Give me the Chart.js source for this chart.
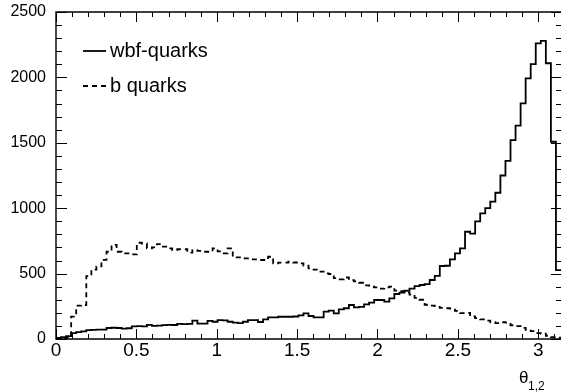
<!DOCTYPE html>
<html>
<head>
<meta charset="utf-8">
<script src="https://cdn.jsdelivr.net/npm/chart.js@4/dist/chart.umd.min.js"></script>
<style>
  html, body { margin: 0; padding: 0; background: #fff; }
  #wrap { width: 561px; height: 392px; }
</style>
</head>
<body>
<div id="wrap"><canvas id="chart"></canvas></div>
<script>
// 100 bins between 0 and pi (theta_1,2)
const nBins = 100;
const xLow = 0;
const xHigh = Math.PI;

const seriesLabels = ['wbf-quarks', 'b quarks'];

const wbfQuarks = [
    8, 15, 22, 45, 52, 58, 68, 70, 72, 72,
    84, 86, 84, 80, 82, 96, 98, 97, 108, 100,
    102, 106, 108, 107, 115, 114, 116, 140, 117, 118,
    138, 132, 145, 142, 132, 125, 122, 132, 145, 145,
    130, 150, 165, 165, 170, 170, 170, 172, 180, 196,
    176, 165, 165, 209, 217, 196, 227, 235, 260, 242,
    245, 265, 278, 298, 298, 285, 311, 344, 355, 369,
    385, 405, 413, 420, 451, 482, 558, 560, 609, 655,
    693, 820, 805, 900, 961, 1000, 1050, 1118, 1250, 1362,
    1521, 1631, 1802, 1993, 2102, 2260, 2280, 2108, 1508, 527
];

const bQuarks = [
    0, 3, 10, 171, 255, 260, 480, 530, 555, 605,
    667, 720, 667, 655, 655, 647, 736, 730, 693, 700,
    726, 706, 693, 680, 686, 686, 660, 680, 674, 667,
    667, 693, 670, 655, 693, 624, 624, 616, 609, 609,
    604, 604, 629, 578, 584, 584, 591, 585, 578, 560,
    540, 530, 515, 502, 497, 465, 456, 470, 450, 440,
    430, 410, 400, 395, 385, 395, 400, 370, 365, 355,
    340, 315, 300, 262, 255, 245, 238, 235, 232, 215,
    198, 200, 172, 160, 150, 140, 128, 122, 128, 125,
    105, 98, 85, 70, 60, 45, 40, 25, 15, 10
];

const xMajorTicks = [0, 0.5, 1, 1.5, 2, 2.5, 3];
const xTickLabels = ['0', '0.5', '1', '1.5', '2', '2.5', '3'];
const yMajorTicks = [0, 500, 1000, 1500, 2000, 2500];
const yTickLabels = ['0', '500', '1000', '1500', '2000', '2500'];

const FONT = "'Liberation Sans', Arial, sans-serif";

// turn bin contents into points on the bin edges for a stepped line
function toSteps(values) {
    const w = (xHigh - xLow) / nBins;
    const pts = values.map((v, i) => ({ x: xLow + i * w, y: v }));
    pts.push({ x: xHigh, y: values[values.length - 1] });
    return pts;
}

// ROOT-like frame with ticks pointing inwards on all four sides
// (the right border itself falls just outside the picture)
const framePlugin = {
    id: 'frame',
    afterDatasetsDraw(chart) {
        const { ctx, chartArea: a, scales } = chart;
        const x = scales.x, y = scales.y;
        const right = x.getPixelForValue(xHigh);
        ctx.save();
        ctx.strokeStyle = '#000';
        ctx.lineWidth = 1;
        ctx.beginPath();
        for (let i = 0; i <= 31; i++) {
            const px = Math.round(x.getPixelForValue(i / 10)) + 0.5;
            const len = i % 5 === 0 ? 10 : 5;
            ctx.moveTo(px, a.bottom); ctx.lineTo(px, a.bottom - len);
            ctx.moveTo(px, a.top); ctx.lineTo(px, a.top + len);
        }
        for (let i = 0; i <= 25; i++) {
            const py = Math.round(y.getPixelForValue(i * 100)) + 0.5;
            const len = i % 5 === 0 ? 11 : 6;
            ctx.moveTo(a.left, py); ctx.lineTo(a.left + len, py);
            ctx.moveTo(right + 1, py); ctx.lineTo(right + 1 - len, py);
        }
        ctx.stroke();
        ctx.lineWidth = 1.4;
        ctx.beginPath();
        ctx.moveTo(right + 2, a.top);
        ctx.lineTo(a.left, a.top);
        ctx.lineTo(a.left, a.bottom);
        ctx.lineTo(right + 2, a.bottom);
        ctx.stroke();
        ctx.restore();
    }
};

// legend in the upper left corner of the frame, without a box
const legendPlugin = {
    id: 'rootLegend',
    afterDraw(chart) {
        const { ctx, chartArea: a } = chart;
        ctx.save();
        ctx.font = '20px ' + FONT;
        ctx.fillStyle = '#000';
        ctx.textBaseline = 'middle';
        chart.data.datasets.forEach((ds, i) => {
            const yy = a.top + 39 + i * 35;
            ctx.strokeStyle = '#000';
            ctx.lineWidth = ds.borderWidth;
            ctx.setLineDash(ds.borderDash || []);
            ctx.beginPath();
            ctx.moveTo(a.left + 27, yy);
            ctx.lineTo(a.left + 50, yy);
            ctx.stroke();
            ctx.setLineDash([]);
            ctx.fillText(ds.label, a.left + 54, yy);
        });
        ctx.restore();
    }
};

// axis title theta_{1,2} at the lower right
const titlePlugin = {
    id: 'xTitle',
    afterDraw(chart) {
        const { ctx } = chart;
        ctx.save();
        ctx.fillStyle = '#000';
        ctx.textBaseline = 'alphabetic';
        ctx.font = '17px ' + FONT;
        ctx.fillText('θ', 519, 383);
        ctx.font = '12px ' + FONT;
        ctx.fillText('1,2', 528, 390);
        ctx.restore();
    }
};

const ctx = document.getElementById('chart').getContext('2d');
new Chart(ctx, {
    type: 'line',
    data: {
        datasets: [{
            label: seriesLabels[0],
            data: toSteps(wbfQuarks),
            stepped: true,
            borderColor: '#000',
            borderWidth: 1.8,
            pointRadius: 0,
            fill: false
        }, {
            label: seriesLabels[1],
            data: toSteps(bQuarks),
            stepped: true,
            borderColor: '#000',
            borderWidth: 1.8,
            borderDash: [5, 4],
            pointRadius: 0,
            fill: false
        }]
    },
    options: {
        responsive: true,
        maintainAspectRatio: false,
        animation: false,
        devicePixelRatio: 1,
        layout: { padding: { top: 12, left: 0, right: -2, bottom: 0 } },
        plugins: {
            legend: { display: false },
            tooltip: { enabled: false }
        },
        scales: {
            x: {
                type: 'linear',
                min: xLow,
                max: xHigh,
                grid: { display: false, drawTicks: false },
                border: { display: false },
                afterBuildTicks: s => { s.ticks = xMajorTicks.map(v => ({ value: v })); },
                afterFit: s => { s.height = 53; s.paddingLeft = 0; s.paddingRight = 0; },
                ticks: {
                    padding: 0,
                    color: '#000',
                    font: { family: FONT, size: 19 },
                    maxRotation: 0,
                    callback: (v, i) => xTickLabels[i]
                }
            },
            y: {
                type: 'linear',
                min: 0,
                max: 2500,
                grid: { display: false, drawTicks: false },
                border: { display: false },
                afterBuildTicks: s => { s.ticks = yMajorTicks.map(v => ({ value: v })); },
                afterFit: s => { s.width = 56; s.paddingTop = 0; s.paddingBottom = 0; },
                ticks: {
                    padding: 10,
                    color: '#000',
                    font: { family: FONT, size: 16 },
                    callback: (v, i) => yTickLabels[i]
                }
            }
        }
    },
    plugins: [framePlugin, legendPlugin, titlePlugin]
});
</script>
</body>
</html>
